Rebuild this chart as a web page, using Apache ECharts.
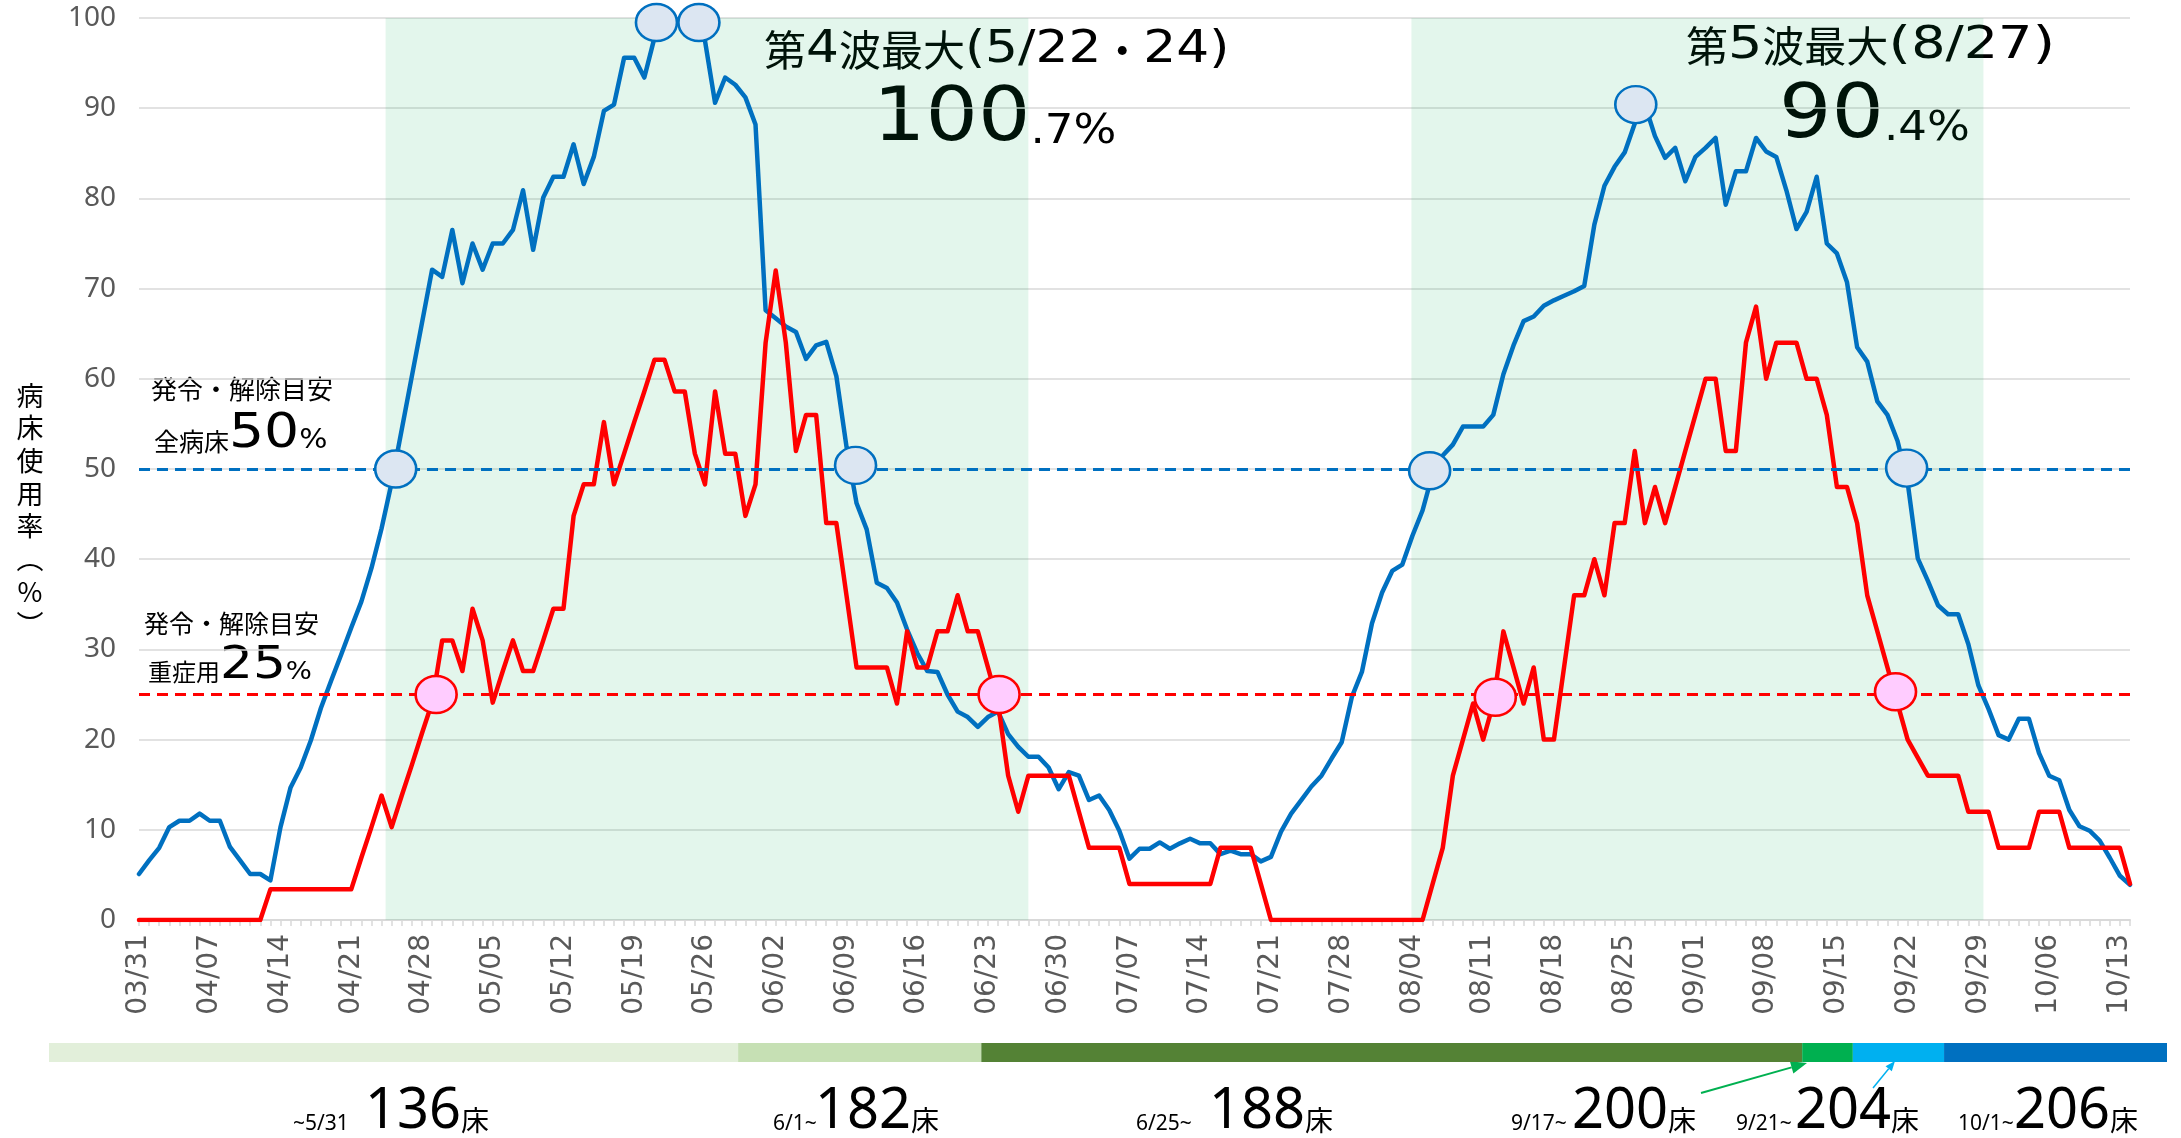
<!DOCTYPE html>
<html>
<head>
<meta charset="utf-8">
<title>病床使用率</title>
<script src="https://cdn.jsdelivr.net/npm/echarts@6/dist/echarts.min.js"></script>
<style>
html, body { margin: 0; padding: 0; background: #fff; }
#main { width: 2181px; height: 1138px; }
</style>
</head>
<body>
<div id="main"></div>
<script>
// 日付（03/31 ～ 10/14）
var dates = [];
for (var i = 0; i < 198; i++) {
    var d = new Date(2021, 2, 31 + i);
    dates.push(('0' + (d.getMonth() + 1)).slice(-2) + '/' + ('0' + d.getDate()).slice(-2));
}

// 全病床の使用率(%)
var allBeds = [
    5.1, 6.6, 8.0, 10.3, 11.0, 11.0, 11.8,
    11.0, 11.0, 8.1, 6.6, 5.1, 5.1, 4.4,
    10.3, 14.7, 16.9, 19.9, 23.5, 26.5, 29.4,
    32.4, 35.3, 39.0, 43.4, 48.5, 54.4, 60.3,
    66.2, 72.1, 71.3, 76.5, 70.6, 75.0, 72.1,
    75.0, 75.0, 76.5, 80.9, 74.3, 80.1, 82.4,
    82.4, 86.0, 81.6, 84.6, 89.7, 90.4, 95.6,
    95.6, 93.4, 97.8, 100.7, 99.3, 100.7, 99.3,
    97.5, 90.6, 93.4, 92.6, 91.2, 88.2, 67.6,
    66.7, 65.8, 65.2, 62.2, 63.7, 64.1, 60.3,
    52.5, 46.2, 43.3, 37.4, 36.8, 35.2, 32.2,
    29.6, 27.6, 27.5, 25.0, 23.1, 22.5, 21.4,
    22.5, 23.1, 20.6, 19.2, 18.1, 18.1, 16.9,
    14.5, 16.4, 16.0, 13.3, 13.8, 12.2, 9.9,
    6.8, 7.9, 7.9, 8.6, 7.9, 8.5, 9.0,
    8.5, 8.5, 7.3, 7.7, 7.3, 7.3, 6.5,
    7.0, 9.8, 11.8, 13.3, 14.8, 16.0, 17.9,
    19.7, 24.7, 27.5, 32.9, 36.3, 38.7, 39.4,
    42.6, 45.4, 49.5, 51.5, 52.7, 54.7, 54.7,
    54.7, 56.0, 60.5, 63.7, 66.4, 66.9, 68.1,
    68.7, 69.2, 69.7, 70.3, 77.1, 81.4, 83.5,
    85.1, 88.3, 90.4, 86.9, 84.5, 85.6, 81.9,
    84.6, 85.6, 86.7, 79.3, 83.0, 83.0, 86.7,
    85.2, 84.6, 80.9, 76.6, 78.5, 82.4, 75.0,
    73.9, 70.7, 63.5, 61.9, 57.5, 56.0, 53.1,
    48.5, 40.1, 37.6, 34.9, 33.9, 33.9, 30.6,
    26.0, 23.4, 20.5, 20.0, 22.3, 22.3, 18.5,
    16.0, 15.5, 12.2, 10.4, 9.9, 8.8, 6.9,
    4.9, 3.9
];

// 重症用病床の使用率(%)
var severeBeds = [
    0, 0, 0, 0, 0, 0, 0,
    0, 0, 0, 0, 0, 0, 3.4,
    3.4, 3.4, 3.4, 3.4, 3.4, 3.4, 3.4,
    3.4, 6.9, 10.3, 13.8, 10.3, 13.8, 17.2,
    20.7, 24.1, 31.0, 31.0, 27.6, 34.5, 31.0,
    24.1, 27.6, 31.0, 27.6, 27.6, 31.0, 34.5,
    34.5, 44.8, 48.3, 48.3, 55.2, 48.3, 51.7,
    55.2, 58.6, 62.1, 62.1, 58.6, 58.6, 51.7,
    48.3, 58.6, 51.7, 51.7, 44.8, 48.3, 64,
    72, 64, 52, 56, 56, 44, 44,
    36, 28, 28, 28, 28, 24, 32,
    28, 28, 32, 32, 36, 32, 32,
    28, 24, 16, 12, 16, 16, 16,
    16, 16, 12, 8, 8, 8, 8,
    4, 4, 4, 4, 4, 4, 4,
    4, 4, 8, 8, 8, 8, 4,
    0, 0, 0, 0, 0, 0, 0,
    0, 0, 0, 0, 0, 0, 0,
    0, 0, 4, 8, 16, 20, 24,
    20, 24, 32, 28, 24, 28, 20,
    20, 28, 36, 36, 40, 36, 44,
    44, 52, 44, 48, 44, 48, 52,
    56, 60, 60, 52, 52, 64, 68,
    60, 64, 64, 64, 60, 60, 56,
    48, 48, 44, 36, 32, 28, 24,
    20, 18, 16, 16, 16, 16, 12,
    12, 12, 8, 8, 8, 8, 12,
    12, 12, 8, 8, 8, 8, 8,
    8, 4
];

// 発令・解除目安
var guideAll = 50;
var guideSevere = 25;

// 緑の期間（日数の位置）
var shadeRanges = [[24.4, 88.0], [125.9, 182.5]];

// 丸印（日数の位置, 値）
var allMarks = [[25.4, 50], [51.2, 99.5], [55.4, 99.5], [70.9, 50.4], [127.7, 49.8], [148.1, 90.4], [174.9, 50.1]];
var severeMarks = [[29.4, 25], [85.1, 25], [134.2, 24.7], [173.8, 25.3]];

// 確保病床数の期間（日数）
var bedSpanDays = [68, 24, 81, 5, 9, 22];
var bedFrom = ['~5/31', '6/1~', '6/25~', '9/17~', '9/21~', '10/1~'];
var bedCounts = ['136', '182', '188', '200', '204', '206'];
var bedColors = ['#e2efda', '#c6e0b4', '#548235', '#00b050', '#00b0f0', '#0070c0'];

var CJK = '"Noto Sans CJK JP"';
var DV = '"DejaVu Sans"';
var NS = '"Noto Sans"';
var spanTotal = bedSpanDays.reduce(function (a, b) { return a + b; }, 0);

// 文字幅をはかって横に並べる
var measureCtx = document.createElement('canvas').getContext('2d');
function textWidth(s, font) {
    measureCtx.font = font;
    return measureCtx.measureText(s).width;
}
// parts: [text, family, size, centerY, scaleX]
function textRun(x, parts) {
    var out = [];
    parts.forEach(function (p) {
        var font = 'normal ' + p[2] + 'px ' + p[1];
        var sx = p[4] || 1;
        out.push({
            type: 'text', x: x, y: p[3], scaleX: sx, silent: true,
            style: { text: p[0], font: font, fill: '#000', align: 'left', verticalAlign: 'middle' }
        });
        x += textWidth(p[0], font) * sx;
    });
    return out;
}

function arrow(x1, y1, x2, y2, color, head, width) {
    var a = Math.atan2(y2 - y1, x2 - x1);
    var bx = x2 - head * Math.cos(a), by = y2 - head * Math.sin(a);
    var nx = -Math.sin(a) * head * 0.4, ny = Math.cos(a) * head * 0.4;
    return [
        { type: 'line', silent: true, shape: { x1: x1, y1: y1, x2: bx, y2: by }, style: { stroke: color, lineWidth: width } },
        { type: 'polygon', silent: true, shape: { points: [[x2, y2], [bx + nx, by + ny], [bx - nx, by - ny]] }, style: { fill: color } }
    ];
}

var W = 1.15; // 数字の横幅
var WB = 1.1;
var graphics = [{
    type: 'text', x: 30, y: 379, silent: true,
    style: {
        text: '病\n床\n使\n用\n率\n︵\n%\n︶', fill: '#000',
        font: 'normal 27px ' + CJK, lineHeight: 32.7,
        align: 'center', verticalAlign: 'top'
    }
}];

graphics = graphics.concat(
    textRun(764, [
        ['第', CJK, 42, 50], ['4', DV, 45, 50, W], ['波最大', CJK, 42, 50], ['(', DV, 45, 50, W],
        ['5/22', DV, 45, 50, W], ['・', CJK, 42, 50], ['24', DV, 45, 50, W], [')', DV, 45, 50, W]
    ]),
    textRun(873, [['100', DV, 75, 121, WB], ['.7%', DV, 41, 132, WB]]),
    textRun(1686, [
        ['第', CJK, 42, 46], ['5', DV, 45, 46, 1.2], ['波最大', CJK, 42, 46], ['(', DV, 45, 46, 1.3],
        ['8/27', DV, 45, 46, 1.2], [')', DV, 45, 46, 1.3]
    ]),
    textRun(1779, [['90', DV, 75, 117.5, WB], ['.4%', DV, 41, 129, WB]]),
    textRun(151, [['発令・解除目安', CJK, 26, 389]]),
    textRun(154, [['全病床', CJK, 25, 441], ['50', DV, 48, 434.5, W], ['%', DV, 27, 441, 1.1]]),
    textRun(144, [['発令・解除目安', CJK, 25, 623]]),
    textRun(148, [['重症用', CJK, 24, 672], ['25', DV, 45, 666.5, W], ['%', DV, 25, 672, 1.1]])
);

// 病床数ラベル
var bedTextX = [[293, 365], [773, 815], [1136, 1209], [1511, 1572], [1736, 1795], [1958, 2014]];
bedFrom.forEach(function (s, k) {
    graphics = graphics.concat(
        textRun(bedTextX[k][0], [[s, NS, 21, 1124]]),
        textRun(bedTextX[k][1], [[bedCounts[k], NS, 56, 1112], ['床', CJK, 28, 1120]])
    );
});
graphics = graphics.concat(arrow(1701, 1093, 1807, 1063, '#00b050', 16, 2));
graphics = graphics.concat(arrow(1873, 1088, 1895, 1061, '#00b0f0', 10, 1.5));

var chart = echarts.init(document.getElementById('main'));

var option = {
    animation: false,
    backgroundColor: '#fff',
    textStyle: { fontFamily: 'Noto Sans CJK JP' },
    grid: [
        { left: 139, right: 51, top: 18, bottom: 218 },
        { left: 49, right: 14, top: 1043, height: 19 }
    ],
    xAxis: [
        {
            type: 'category', gridIndex: 0, data: dates, boundaryGap: false,
            axisLine: { lineStyle: { color: '#d9d9d9', width: 2 } },
            axisTick: { interval: 0, length: 6, lineStyle: { color: '#d9d9d9', width: 1.5 } },
            axisLabel: {
                interval: 6, rotate: 90, margin: 14,
                color: '#595959', fontFamily: 'DejaVu Sans', fontSize: 28
            },
            splitLine: { show: false }
        },
        { type: 'value', gridIndex: 0, min: 0, max: dates.length - 1, show: false },
        { type: 'value', gridIndex: 1, min: 0, max: spanTotal, show: false }
    ],
    yAxis: [
        {
            type: 'value', gridIndex: 0, min: 0, max: 100, interval: 10,
            axisLine: { show: false },
            axisTick: { show: false },
            axisLabel: { margin: 23, color: '#595959', fontFamily: 'Noto Sans', fontSize: 28 },
            splitLine: { lineStyle: { color: '#d9d9d9', width: 1.5 } }
        },
        { type: 'category', gridIndex: 1, data: ['床数'], show: false }
    ],
    series: [
        {
            name: '期間', type: 'line', xAxisIndex: 1, yAxisIndex: 0,
            data: [], symbol: 'none', silent: true,
            markArea: {
                silent: true,
                itemStyle: { color: 'rgba(0,176,80,0.11)' },
                data: shadeRanges.map(function (r) {
                    return [{ xAxis: r[0] }, { xAxis: r[1] }];
                })
            }
        },
        {
            name: '全病床', type: 'line', xAxisIndex: 0, yAxisIndex: 0,
            data: allBeds, symbol: 'none',
            lineStyle: { color: '#0070c0', width: 4.5, cap: 'round', join: 'round' },
            markLine: {
                silent: true, symbol: ['none', 'none'],
                label: { show: false },
                lineStyle: { type: [11, 7], width: 3 },
                data: [
                    { yAxis: guideAll, lineStyle: { color: '#0070c0' } },
                    { yAxis: guideSevere, lineStyle: { color: '#ff0000' } }
                ]
            }
        },
        {
            name: '重症用', type: 'line', xAxisIndex: 0, yAxisIndex: 0,
            data: severeBeds, symbol: 'none',
            lineStyle: { color: '#ff0000', width: 4.5, cap: 'round', join: 'round' }
        },
        {
            name: '丸印', type: 'line', xAxisIndex: 1, yAxisIndex: 0,
            data: [], symbol: 'none', silent: true,
            markPoint: {
                silent: true, symbol: 'circle', symbolSize: [41, 37],
                label: { show: false },
                data: allMarks.map(function (p) {
                    return { coord: p, itemStyle: { color: '#dce6f2', borderColor: '#0070c0', borderWidth: 2.5 } };
                }).concat(severeMarks.map(function (p) {
                    return { coord: p, itemStyle: { color: '#ffccff', borderColor: '#ff0000', borderWidth: 2.5 } };
                }))
            }
        }
    ].concat(bedSpanDays.map(function (v, k) {
        return {
            name: bedCounts[k], type: 'bar', xAxisIndex: 2, yAxisIndex: 1,
            stack: 'beds', data: [v], barWidth: 19, silent: true,
            itemStyle: { color: bedColors[k] }
        };
    })),
    graphic: graphics
};

chart.setOption(option);
</script>
</body>
</html>
